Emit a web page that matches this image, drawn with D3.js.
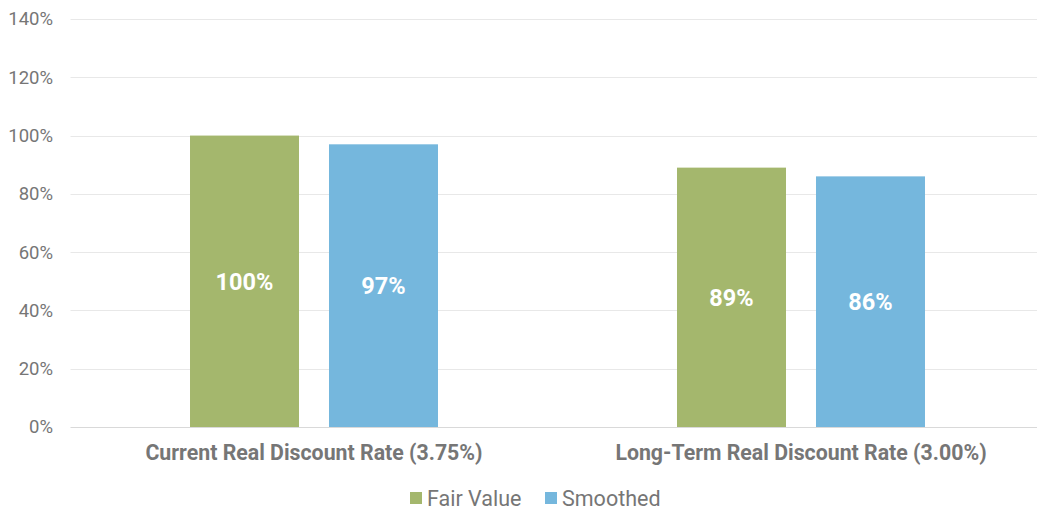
<!DOCTYPE html>
<html><head><meta charset="utf-8">
<script src="https://cdn.jsdelivr.net/npm/d3@7"></script>
<style>body{margin:0;background:#fff}svg{display:block;font-family:Roboto,sans-serif}</style>
</head><body><svg id="c" width="1037" height="510"></svg>
<script>
const categories = ["Current Real Discount Rate (3.75%)", "Long-Term Real Discount Rate (3.00%)"];
const seriesNames = ["Fair Value", "Smoothed"];
const fairValue = [100, 89];
const smoothed = [97, 86];
const yTicks = [0, 20, 40, 60, 80, 100, 120, 140];
const colors = ["#a4b76d", "#75b7dd"];

const svg = d3.select("#c");
const plotLeft = 70.5, plotRight = 1044.5, plotTop = 19, plotBottom = 427;
const x0 = d3.scaleBand().domain(categories).range([plotLeft, plotRight]).paddingInner(0.4908).paddingOuter(0.2454);
const x1 = d3.scaleBand().domain(seriesNames).range([0, x0.bandwidth()]).paddingInner(0.2158).paddingOuter(0);
const y = d3.scaleLinear().domain([0, 140]).range([plotBottom, plotTop]);

// gridlines
svg.append("g").selectAll("line").data(yTicks).join("line")
  .attr("x1", plotLeft).attr("x2", plotRight)
  .attr("y1", d => Math.round(y(d)) + 0.5).attr("y2", d => Math.round(y(d)) + 0.5)
  .attr("stroke", d => d === 0 ? "#d9d9d9" : "#e8e8e8").attr("stroke-width", 1);

// y axis labels
const yAxis = d3.axisLeft(y).tickValues(yTicks).tickFormat(d => d + "%").tickSize(0).tickPadding(0);
const ya = svg.append("g").attr("transform", "translate(53,0)").call(yAxis);
ya.select(".domain").remove();
ya.selectAll("text").attr("fill", "#767676").style("font-size", "18.5px").style("font-family", "Roboto, sans-serif");

const data = categories.map((c, i) => ({cat: c, vals: [fairValue[i], smoothed[i]]}));
const g = svg.append("g").selectAll("g").data(data).join("g")
  .attr("transform", d => `translate(${x0(d.cat)},0)`);
g.selectAll("rect").data(d => d.vals.map((v, j) => ({s: seriesNames[j], v, j}))).join("rect")
  .attr("x", d => x1(d.s)).attr("width", x1.bandwidth())
  .attr("y", d => y(d.v)).attr("height", d => y(0) - y(d.v))
  .attr("fill", d => colors[d.j]);
g.selectAll("text").data(d => d.vals.map((v, j) => ({s: seriesNames[j], v, j}))).join("text")
  .attr("x", d => x1(d.s) + x1.bandwidth() / 2)
  .attr("y", d => (y(d.v) + y(0)) / 2)
  .attr("dy", "0.35em").attr("text-anchor", "middle")
  .attr("fill", "#fff").style("font-weight", "bold").style("font-size", "23.5px")
  .text(d => d.v + "%");

// x axis labels
const xAxis = d3.axisBottom(x0).tickSize(0).tickPadding(0);
const xa = svg.append("g").attr("transform", `translate(0,${plotBottom})`).call(xAxis);
xa.select(".domain").remove();
xa.selectAll("text").attr("fill", "#767676").attr("dy", "0").attr("y", 33)
  .style("font-size", "21.3px").style("font-weight", "bold").style("font-family", "Roboto, sans-serif");

// legend
const legendX = [410, 545];
const lg = svg.append("g").selectAll("g").data(seriesNames).join("g")
  .attr("transform", (d, i) => `translate(${legendX[i]},492)`);
lg.append("rect").attr("width", 12).attr("height", 12).attr("fill", (d, i) => colors[i]);
lg.append("text").attr("x", 17).attr("y", 6).attr("dy", "0.35em")
  .attr("fill", "#767676").style("font-size", "21.5px").text(d => d);
</script></body></html>
